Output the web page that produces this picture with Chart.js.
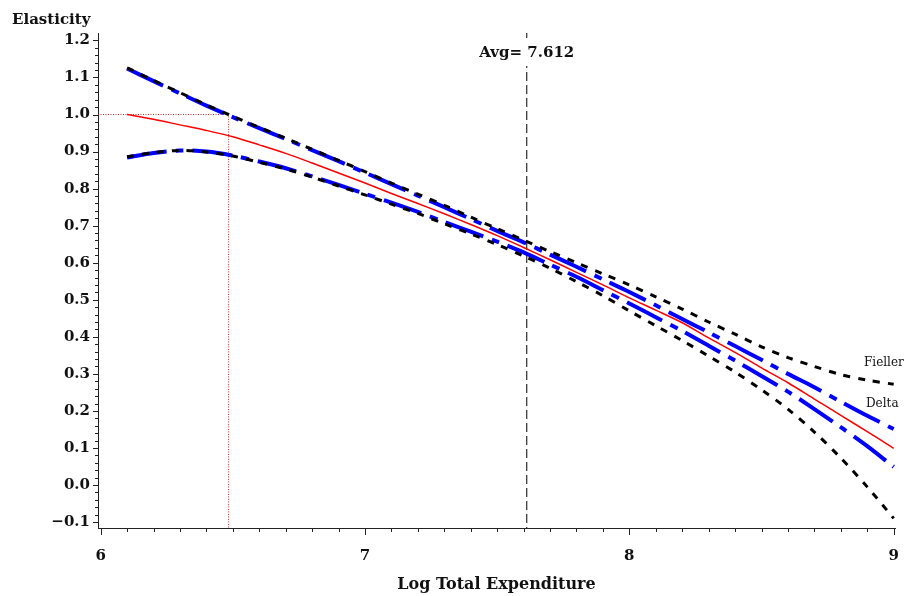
<!DOCTYPE html>
<html>
<head>
<meta charset="utf-8">
<script src="https://cdn.jsdelivr.net/npm/chart.js@4"></script>
<style>
  html, body { margin: 0; padding: 0; background: #fff; }
  #wrap { width: 904px; height: 596px; }
</style>
</head>
<body>
<div id="wrap"><canvas id="elasticityChart" width="904" height="596"></canvas></div>
<script>
// Log total expenditure grid
const logExp = [6.1, 6.2, 6.3, 6.4, 6.5, 6.6, 6.7, 6.8, 6.9, 7.0,
                7.1, 7.2, 7.3, 7.4, 7.5, 7.6, 7.7, 7.8, 7.9, 8.0,
                8.1, 8.2, 8.3, 8.4, 8.5, 8.6, 8.7, 8.8, 8.9, 9.0];

// Point estimate of the elasticity
const estimate = [1.000, 0.987, 0.972, 0.957, 0.940, 0.918, 0.895, 0.869, 0.842, 0.815,
                  0.787, 0.760, 0.732, 0.703, 0.673, 0.641, 0.608, 0.574, 0.540, 0.505,
                  0.472, 0.438, 0.397, 0.358, 0.316, 0.276, 0.232, 0.188, 0.144, 0.099];

// Delta method bounds
const deltaUpper = [1.124, 1.090, 1.057, 1.024, 0.993, 0.963, 0.934, 0.904, 0.874, 0.843,
                    0.812, 0.781, 0.750, 0.718, 0.686, 0.655, 0.622, 0.589, 0.555, 0.521,
                    0.485, 0.448, 0.412, 0.375, 0.338, 0.300, 0.264, 0.225, 0.187, 0.151];
const deltaLower = [0.884, 0.896, 0.903, 0.900, 0.889, 0.873, 0.855, 0.833, 0.810, 0.786,
                    0.762, 0.737, 0.710, 0.684, 0.657, 0.628, 0.595, 0.562, 0.526, 0.490,
                    0.453, 0.416, 0.376, 0.336, 0.294, 0.252, 0.205, 0.156, 0.105, 0.049];

// Fieller bounds
const fiellerUpper = [1.126, 1.092, 1.059, 1.026, 0.995, 0.965, 0.936, 0.906, 0.876, 0.846,
                      0.815, 0.785, 0.755, 0.723, 0.692, 0.661, 0.630, 0.600, 0.570, 0.540,
                      0.508, 0.475, 0.440, 0.407, 0.373, 0.344, 0.320, 0.298, 0.283, 0.272];
const fiellerLower = [0.886, 0.897, 0.903, 0.899, 0.888, 0.871, 0.853, 0.831, 0.807, 0.783,
                      0.758, 0.733, 0.705, 0.678, 0.649, 0.618, 0.585, 0.549, 0.511, 0.470,
                      0.430, 0.390, 0.348, 0.305, 0.257, 0.205, 0.143, 0.073, -0.005, -0.090];

// Reference values
const avgLogExp = 7.612;   // sample mean
const unitCross = 6.484;   // upper bound reaches 1.0

// Axis ticks
const xTicks = [6, 7, 8, 9];
const yTicks = [-0.1, 0.0, 0.1, 0.2, 0.3, 0.4, 0.5, 0.6, 0.7, 0.8, 0.9, 1.0, 1.1, 1.2];
const yTickLabels = ['\u22120.1', '0.0', '0.1', '0.2', '0.3', '0.4', '0.5', '0.6',
                     '0.7', '0.8', '0.9', '1.0', '1.1', '1.2'];

const X_MIN = 5.99, X_MAX = 9.005, Y_MIN = -0.116, Y_MAX = 1.22;
const SERIF = '"DejaVu Serif", serif';

const toPoints = ys => logExp.map((x, i) => ({ x: x, y: ys[i] }));

// Minor ticks, axis titles and in-plot labels
const decorations = {
    id: 'decorations',
    afterDraw(chart) {
        const { ctx, scales: { x, y }, chartArea } = chart;
        ctx.save();
        ctx.strokeStyle = '#222';
        ctx.lineWidth = 1;

        // y ticks every 0.02, longer at the labelled ones
        for (let k = -5; k <= 60; k++) {
            const py = Math.round(y.getPixelForValue(k / 50)) + 0.5;
            const len = k % 5 === 0 ? 5 : 3;
            ctx.beginPath();
            ctx.moveTo(chartArea.left, py);
            ctx.lineTo(chartArea.left - len, py);
            ctx.stroke();
        }
        // x ticks every 0.1
        for (let k = 60; k <= 90; k++) {
            const px = Math.round(x.getPixelForValue(k / 10)) + 0.5;
            const len = k % 10 === 0 ? 7 : 4;
            ctx.beginPath();
            ctx.moveTo(px, chartArea.bottom);
            ctx.lineTo(px, chartArea.bottom + len);
            ctx.stroke();
        }

        ctx.fillStyle = '#111';
        ctx.textBaseline = 'alphabetic';

        ctx.font = 'bold 15px ' + SERIF;
        ctx.textAlign = 'left';
        ctx.fillText('Elasticity', 12, 24);

        ctx.textAlign = 'center';
        ctx.font = 'bold 16px ' + SERIF;
        ctx.fillText('Log Total Expenditure', (chartArea.left + chartArea.right) / 2, 589);

        // mean label sits over the dashed line
        ctx.font = 'bold 15px ' + SERIF;
        const ax = x.getPixelForValue(avgLogExp);
        const avgText = 'Avg= ' + avgLogExp.toFixed(3);
        const w = ctx.measureText(avgText).width;
        ctx.fillStyle = '#fff';
        ctx.fillRect(ax - w / 2 - 2, 38, w + 4, 28);
        ctx.fillStyle = '#111';
        ctx.fillText(avgText, ax, 57);

        ctx.textAlign = 'left';
        ctx.font = '12px ' + SERIF;
        ctx.fillText('Fieller', 864, 366);
        ctx.fillText('Delta', 866, 407);
        ctx.restore();
    }
};

function renderChart() {
    const ctx = document.getElementById('elasticityChart').getContext('2d');

    new Chart(ctx, {
        type: 'line',
        data: {
            datasets: [
                {
                    label: 'Estimate',
                    data: toPoints(estimate),
                    borderColor: '#ff0000',
                    borderWidth: 1.5
                },
                {
                    label: 'Fieller upper',
                    data: toPoints(fiellerUpper),
                    borderColor: '#000',
                    borderWidth: 3,
                    borderDash: [7, 8]
                },
                {
                    label: 'Fieller lower',
                    data: toPoints(fiellerLower),
                    borderColor: '#000',
                    borderWidth: 3,
                    borderDash: [7, 8]
                },
                {
                    label: 'Delta upper',
                    data: toPoints(deltaUpper),
                    borderColor: '#0000ff',
                    borderWidth: 4,
                    borderDash: [40, 9, 8, 9]
                },
                {
                    label: 'Delta lower',
                    data: toPoints(deltaLower),
                    borderColor: '#0000ff',
                    borderWidth: 4,
                    borderDash: [40, 9, 8, 9]
                },
                {
                    label: 'Unit elasticity',
                    data: [{ x: X_MIN, y: 1.0 }, { x: unitCross, y: 1.0 }, { x: unitCross, y: Y_MIN }],
                    borderColor: '#b83030',
                    borderWidth: 1,
                    borderDash: [1, 1.5],
                    tension: 0
                },
                {
                    label: 'Average',
                    data: [{ x: avgLogExp, y: Y_MAX }, { x: avgLogExp, y: Y_MIN }],
                    borderColor: '#000',
                    borderWidth: 1,
                    borderDash: [9, 4],
                    tension: 0
                }
            ]
        },
        options: {
            responsive: false,
            animation: false,
            devicePixelRatio: 1,
            layout: { padding: { top: 33, right: 9, bottom: 0, left: 0 } },
            elements: {
                point: { radius: 0 },
                line: { tension: 0.3, fill: false }
            },
            datasets: { line: { clip: 6 } },
            plugins: {
                legend: { display: false },
                tooltip: { enabled: false }
            },
            scales: {
                x: {
                    type: 'linear',
                    min: X_MIN,
                    max: X_MAX,
                    afterBuildTicks: s => { s.ticks = xTicks.map(v => ({ value: v })); },
                    afterFit: s => { s.height = 68; },
                    // tick marks are drawn by the plugin; tickLength only offsets the labels
                    grid: { display: false, drawTicks: true, tickLength: 17 },
                    border: { display: true, color: '#222', width: 1 },
                    ticks: {
                        padding: 2,
                        maxRotation: 0,
                        color: '#111',
                        font: { family: SERIF, size: 15, weight: 'bold' },
                        callback: v => String(v)
                    }
                },
                y: {
                    type: 'linear',
                    min: Y_MIN,
                    max: Y_MAX,
                    afterBuildTicks: s => { s.ticks = yTicks.map(v => ({ value: v })); },
                    afterFit: s => { s.width = 98; },
                    grid: { display: false, drawTicks: false },
                    border: { display: true, color: '#222', width: 1 },
                    ticks: {
                        padding: 8,
                        color: '#111',
                        font: { family: SERIF, size: 15, weight: 'bold' },
                        callback: (v, i) => yTickLabels[i]
                    }
                }
            }
        },
        plugins: [decorations]
    });
}

document.addEventListener('DOMContentLoaded', renderChart);
</script>
</body>
</html>
